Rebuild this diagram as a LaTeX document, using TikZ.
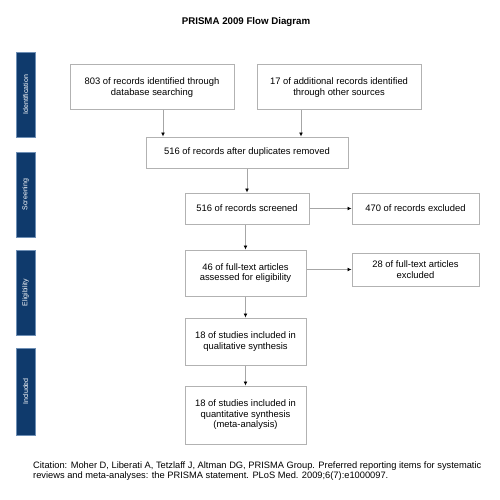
\documentclass[tikz,border=0pt]{standalone}
\usepackage{fontspec}
\setmainfont{Liberation Sans}
\usetikzlibrary{arrows.meta}
\definecolor{navy}{HTML}{0F3A6C}
\definecolor{navyedge}{HTML}{6E8FB5}
\tikzset{
  stepbox/.style={draw=gray!60, line width=1pt, fill=white, align=center,
    inner sep=2pt, font=\fontsize{9.4}{10.5}\selectfont},
  phase/.style={draw=navyedge, line width=0.8pt, fill=navy, text=white, rotate=90,
    minimum width=85pt, minimum height=19pt, inner sep=0pt,
    font=\fontsize{7}{8}\selectfont},
  arr/.style={draw=gray!70, line width=0.8pt, -{Latex[black,length=4pt,width=4pt]}}
}
\begin{document}
\begin{tikzpicture}[x=1pt,y=-1pt]
\useasboundingbox (0,0) rectangle (500,500);
\node[font=\bfseries\fontsize{9.7}{11}\selectfont] (title) at (246,22) {PRISMA 2009 Flow Diagram};

% phases
\node[phase] (ident) at (25.5,94.5) {Identification};
\node[phase] (scr) at (25.5,194.5) {Screening};
\node[phase] (elig) at (25.5,292.5) {Eligibility};
\node[phase, minimum width=87pt] (incl) at (25.5,391.5) {Included};

% boxes
\node[stepbox, minimum width=164pt, minimum height=45pt] (recdb) at (152,87.5)
  {803 of records identified through\\database searching};
\node[stepbox, minimum width=164pt, minimum height=45pt] (recoth) at (339,87.5)
  {17 of additional records identified\\through other sources};
\node[stepbox, minimum width=202pt, minimum height=31pt] (dup) at (247,152.5)
  {516 of records after duplicates removed};
\node[stepbox, minimum width=124pt, minimum height=31pt] (screen) at (247,208.5)
  {516 of records screened};
\node[stepbox, minimum width=127pt, minimum height=31pt] (excl) at (415.5,208.5)
  {470 of records excluded};
\node[stepbox, minimum width=121pt, minimum height=46pt] (full) at (245.5,273)
  {46 of full-text articles\\assessed for eligibility};
\node[stepbox, minimum width=127pt, minimum height=33pt] (fullex) at (415.5,269.5)
  {28 of full-text articles\\excluded};
\node[stepbox, minimum width=121pt, minimum height=47pt] (qual) at (245.5,341.5)
  {18 of studies included in\\qualitative synthesis};
\node[stepbox, minimum width=121pt, minimum height=58pt] (quant) at (245.5,415)
  {18 of studies included in\\quantitative synthesis\\(meta-analysis)};

% arrows
\draw[arr] ([xshift=11pt]recdb.south) -- ([xshift=11pt]recdb.south |- dup.north);
\draw[arr] ([xshift=-38pt]recoth.south) -- ([xshift=-38pt]recoth.south |- dup.north);
\draw[arr] (dup.south -| screen.north) -- (screen.north);
\draw[arr] (screen) -- (excl);
\draw[arr] (screen.south -| full.north) -- (full.north);
\draw[arr] (full.east |- fullex.west) -- (fullex.west);
\draw[arr] (full) -- (qual);
\draw[arr] (qual) -- (quant);

% source
\node[anchor=north west, align=left, inner sep=0pt, font=\fontsize{9.3}{10}\selectfont] (cite) at (33,462)
  {Citation: Moher D, Liberati A, Tetzlaff J, Altman DG, PRISMA Group. Preferred reporting items for systematic\\
   reviews and meta-analyses: the PRISMA statement. PLoS Med. 2009;6(7):e1000097.};
\end{tikzpicture}
\end{document}
